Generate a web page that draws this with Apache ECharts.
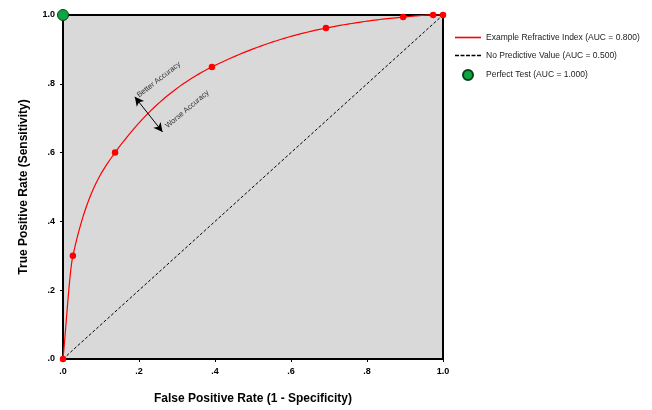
<!DOCTYPE html>
<html><head><meta charset="utf-8">
<script src="https://cdn.jsdelivr.net/npm/echarts@6/dist/echarts.min.js"></script>
<style>html,body{margin:0;padding:0;background:#fff}#c{width:652px;height:410px}</style>
</head><body><div id="c"></div>
<script>
const rocX = [0, 0.026, 0.137, 0.392, 0.692, 0.895, 0.974, 1.0];
const rocY = [0, 0.30, 0.60, 0.849, 0.962, 0.994, 1.0, 1.0];
const diagX = [0, 1];
const diagY = [0, 1];
const perfectX = [0];
const perfectY = [1];
const tickLabels = ['.0', '.2', '.4', '.6', '.8', '1.0'];
const seriesNames = ['Example Refractive Index (AUC = 0.800)', 'No Predictive Value (AUC = 0.500)', 'Perfect Test (AUC = 1.000)'];
const arrowFrom = [0.189, 0.762];
const arrowTo = [0.262, 0.66];
const noteTexts = ['Better Accuracy', 'Worse Accuracy'];
const notePos = [[0.252, 0.812], [0.327, 0.726]];

const zip = (a, b) => a.map((v, i) => [v, b[i]]);
const fmt = v => tickLabels[Math.round(v * 5)];
const FONT = 'Liberation Sans, Arial, sans-serif';

// Monotone cubic (Fritsch-Carlson) tangents, used only to render a smooth path through the data points
function monoTangents(xs, ys) {
  const n = xs.length, d = [], m = [];
  for (let i = 0; i < n - 1; i++) d.push((ys[i + 1] - ys[i]) / (xs[i + 1] - xs[i]));
  m[0] = d[0]; m[n - 1] = d[n - 2];
  for (let i = 1; i < n - 1; i++) {
    if (d[i - 1] * d[i] <= 0) m[i] = 0;
    else {
      const h0 = xs[i] - xs[i - 1], h1 = xs[i + 1] - xs[i];
      const w1 = 2 * h1 + h0, w2 = h1 + 2 * h0;
      m[i] = (w1 + w2) / (w1 / d[i - 1] + w2 / d[i]);
    }
  }
  return m;
}

const chart = echarts.init(document.getElementById('c'));
const axisCommon = {
  min: 0, max: 1, interval: 0.2,
  axisLine: { show: true, onZero: false, lineStyle: { color: '#000', width: 2 } },
  axisTick: { show: true, length: 3, lineStyle: { color: '#000', width: 1 } },
  splitLine: { show: false },
  axisLabel: { formatter: fmt, color: '#000', fontWeight: 'bold', fontSize: 9, fontFamily: FONT, margin: 8 },
  nameLocation: 'middle',
  nameTextStyle: { color: '#000', fontWeight: 'bold', fontSize: 12, fontFamily: FONT }
};
const tang = monoTangents(rocX, rocY);
chart.setOption({
  animation: false,
  grid: { left: 63, top: 15, right: 209, bottom: 50, show: true, backgroundColor: '#d9d9d9', borderColor: '#000', borderWidth: 2 },
  xAxis: Object.assign({}, axisCommon, { type: 'value', name: 'False Positive Rate (1 - Specificity)', nameGap: 34 }),
  yAxis: Object.assign({}, axisCommon, { type: 'value', name: 'True Positive Rate (Sensitivity)', nameGap: 33 }),
  legend: {
    orient: 'vertical', left: 455, top: 33, itemGap: 9, itemWidth: 26, itemHeight: 10, padding: 0,
    textStyle: { color: '#222', fontSize: 8.5, fontFamily: FONT },
    data: [
      { name: seriesNames[0], icon: 'path://M0,0L26,0L26,1.6L0,1.6Z', itemStyle: { color: '#ff0000' } },
      { name: seriesNames[1], icon: 'path://M0,0L4,0L4,1.6L0,1.6ZM5.5,0L9.5,0L9.5,1.6L5.5,1.6ZM11,0L15,0L15,1.6L11,1.6ZM16.5,0L20.5,0L20.5,1.6L16.5,1.6ZM22,0L26,0L26,1.6L22,1.6Z', itemStyle: { color: '#000' } },
      { name: seriesNames[2], icon: 'circle' }
    ]
  },
  series: [
    {
      name: seriesNames[1], type: 'line', data: zip(diagX, diagY), symbol: 'none',
      lineStyle: { color: '#000', width: 1, type: [3, 2] }, itemStyle: { color: '#000' }, z: 2,
      markLine: {
        silent: true, symbol: ['arrow', 'arrow'], symbolSize: [7, 9],
        lineStyle: { color: '#000', width: 1, type: 'solid' }, label: { show: false },
        data: [[{ coord: arrowFrom }, { coord: arrowTo }]]
      }
    },
    {
      name: seriesNames[0], type: 'custom', data: zip(rocX, rocY), z: 3, silent: true,
      itemStyle: { color: '#ff0000' },
      renderItem: function (params, api) {
        if (params.dataIndex !== 0) return null;
        const pts = [];
        for (let i = 0; i < rocX.length - 1; i++) {
          const x0 = rocX[i], x1 = rocX[i + 1], y0 = rocY[i], y1 = rocY[i + 1], h = x1 - x0;
          const steps = 30;
          for (let s = 0; s <= steps; s++) {
            if (i > 0 && s === 0) continue;
            const t = s / steps, t2 = t * t, t3 = t2 * t;
            const y = (2 * t3 - 3 * t2 + 1) * y0 + (t3 - 2 * t2 + t) * h * tang[i] + (-2 * t3 + 3 * t2) * y1 + (t3 - t2) * h * tang[i + 1];
            pts.push(api.coord([x0 + t * h, Math.min(1, y)]));
          }
        }
        return { type: 'polyline', shape: { points: pts }, style: { stroke: '#ff0000', lineWidth: 1.2, fill: null } };
      }
    },
    {
      name: seriesNames[0], type: 'scatter', data: zip(rocX, rocY), symbolSize: 6.5,
      itemStyle: { color: '#ff0000', opacity: 1 }, z: 4
    },
    {
      name: seriesNames[2], type: 'scatter', data: zip(perfectX, perfectY), symbolSize: 11,
      itemStyle: { color: '#0aa640', borderColor: '#0b3d18', borderWidth: 1, opacity: 1 }, z: 5
    }
  ]
});
const g = noteTexts.map((t, i) => {
  const p = chart.convertToPixel({ gridIndex: 0 }, notePos[i]);
  return { type: 'text', x: p[0], y: p[1], rotation: (i === 0 ? 38 : 40) * Math.PI / 180,
    style: { text: t, fontSize: 7.5, fill: '#333', fontFamily: FONT, align: 'center', verticalAlign: 'middle' } };
});
chart.setOption({ graphic: g });
</script></body></html>
